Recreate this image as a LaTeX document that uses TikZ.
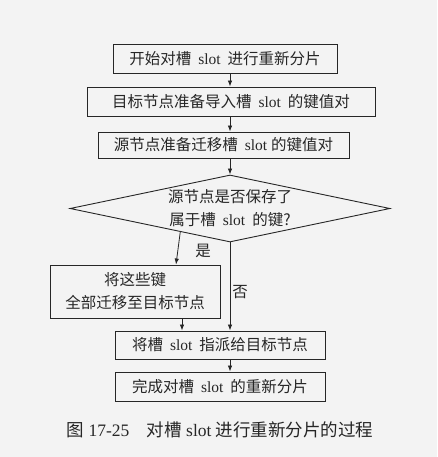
\documentclass[tikz,border=0pt]{standalone}
\usepackage{fontspec}
\setmainfont{Liberation Serif}
\newfontfamily\cjk{Noto Sans CJK SC}
\usetikzlibrary{shapes.geometric,arrows.meta,calc}
\newcommand\zh[1]{{\cjk #1}}
\newcommand\sgap{\hspace{0.45em}}
\definecolor{bgc}{HTML}{F3F3F3}
\definecolor{ink}{HTML}{262626}
\begin{document}
\begin{tikzpicture}[x=1pt,y=-1pt,
  box/.style={draw=ink,line width=0.9pt,rectangle,inner sep=0pt,align=center,
    font=\fontsize{15.5}{23}\selectfont,text=ink},
  arr/.style={draw=ink,line width=0.8pt,-{Latex[length=6pt,width=4.5pt]}},
  lbl/.style={font=\fontsize{15.5}{18}\selectfont,text=ink,inner sep=0pt}]
\fill[bgc] (0,0) rectangle (437,457);
\useasboundingbox (0,0) rectangle (437,457);
\node[box,minimum width=224pt,minimum height=29pt] (b1) at (225,58.5)
  {\zh{开始对槽}\sgap slot\sgap\zh{进行重新分片}};
\node[box,minimum width=288pt,minimum height=29pt] (b2) at (231,101.5)
  {\zh{目标节点准备导入槽}\sgap slot\sgap\zh{的键值对}};
\node[box,minimum width=251pt,minimum height=26pt] (b3) at (223.5,145)
  {\zh{源节点准备迁移槽}\sgap slot\ \zh{的键值对}};
\node[draw=ink,line width=0.9pt,diamond,aspect=4.78,minimum width=320pt,
  minimum height=67pt,inner sep=0pt,align=center,text=ink,
  font=\fontsize{15.5}{23}\selectfont] (d) at (230,208.5)
  {\zh{源节点是否保存了}\\\zh{属于槽}\sgap slot\sgap\zh{的键?}};
\node[box,minimum width=170pt,minimum height=53pt] (b4) at (135,291.5)
  {\zh{将这些键}\\\zh{全部迁移至目标节点}};
\node[box,minimum width=210pt,minimum height=28pt] (b5) at (220,345)
  {\zh{将槽}\sgap slot\sgap\zh{指派给目标节点}};
\node[box,minimum width=210pt,minimum height=29pt] (b6) at (220,386.5)
  {\zh{完成对槽}\sgap slot\sgap\zh{的重新分片}};
\coordinate (ys) at ($(d.west)!0.69!(d.south)$);
\coordinate (ye) at (176,0);
\coordinate (ax) at (182,0);
\draw[arr] (b1.south -| d.north) -- (b2.north -| d.north);
\draw[arr] (b2.south -| d.north) -- (b3.north -| d.north);
\draw[arr] (b3.south -| d.north) -- (d.north);
\draw[arr] (ys) -- (b4.north -| ye);
\draw[arr] (d.south) -- (b5.north -| d.south);
\draw[arr] (b4.south -| ax) -- (b5.north -| ax);
\draw[arr] (b5.south -| d.south) -- (b6.north -| d.south);
\node[lbl] (yes) at (203,251) {\zh{是}};
\node[lbl] (no) at (240,292) {\zh{否}};
\node[inner sep=0pt,text=ink,font=\fontsize{17.5}{20}\selectfont] (cap) at (220,430)
  {\zh{图}\ 17-25\hspace{1em}\zh{对槽}\ slot\ \zh{进行重新分片的过程}};
\end{tikzpicture}
\end{document}
